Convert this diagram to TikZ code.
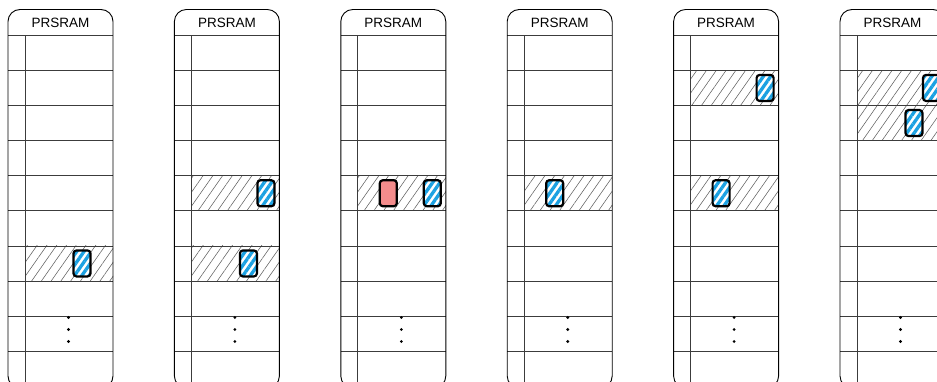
\documentclass[tikz,border=0pt]{standalone}
\usepackage{fontspec}
\setsansfont{Liberation Sans}
\usetikzlibrary{patterns.meta}
\definecolor{ramline}{RGB}{60,60,60}
\definecolor{cellblue}{RGB}{27,161,226}
\definecolor{cellred}{RGB}{244,140,140}
\definecolor{hatchgray}{RGB}{95,95,95}
\tikzset{
  ramframe/.style={draw=black, line width=0.9pt, rounded corners=12pt},
  rowline/.style={draw=ramline, line width=0.8pt},
  hotrow/.style={pattern={Lines[angle=55,distance=8pt,line width=0.55pt]}, pattern color=hatchgray},
  ramtitle/.style={font=\sffamily\fontsize{13.5}{15}\selectfont, inner sep=0pt},
  bluecell/.style={draw=black, line width=2.2pt, rounded corners=3pt, minimum width=17pt, minimum height=26pt, inner sep=0pt, preaction={fill=white}, pattern={Lines[angle=55,distance=6pt,line width=3.3pt]}, pattern color=cellblue},
  redcell/.style={draw=black, line width=2.2pt, rounded corners=3pt, minimum width=17pt, minimum height=26pt, inner sep=0pt, fill=cellred},
  dotmark/.style={circle, fill=black, inner sep=0pt, minimum size=3.1pt}
}

\begin{document}
\begin{tikzpicture}[x=1pt,y=-1pt]
  \useasboundingbox (0,0) rectangle (937,382);
  \clip (0,0) rectangle (937,382);

  % hatched (active) rows: column/row
  \foreach \c/\r in {0/7,1/5,1/7,2/5,3/5,4/2,4/5,5/2,5/3} {
    \pgfmathsetmacro{\cx}{8+166.4*\c}
    \pgfmathsetmacro{\ry}{35.3+35.1*(\r-1)}
    \path[hotrow] (\cx+17,\ry) rectangle (\cx+105,\ry+35.1);
  }

  % the six PRSRAM tables
  \foreach \c in {0,...,5} {
    \pgfmathsetmacro{\cx}{8+166.4*\c}
    \foreach \k in {0,...,9}
      \draw[rowline] (\cx,35.3+35.1*\k) -- (\cx+105,35.3+35.1*\k);
    \draw[rowline] (\cx+17,35.3) -- (\cx+17,388);
    \draw[ramframe] (\cx,9.5) rectangle (\cx+105,388);
    \node[ramtitle] (title\c) at (\cx+52.5,22.5) {PRSRAM};
    \node[dotmark] (dotA\c) at (\cx+60.5,317.5) {};
    \node[dotmark] (dotB\c) at (\cx+60.5,329.5) {};
    \node[dotmark] (dotC\c) at (\cx+60.5,341.5) {};
  }

  % requests in the rows: column/row/offset/kind
  \foreach \c/\r/\o/\kind [count=\n] in {0/7/74/bluecell,1/5/91.5/bluecell,1/7/74/bluecell,
      2/5/47.5/redcell,2/5/91.5/bluecell,3/5/47.5/bluecell,4/2/91.5/bluecell,
      4/5/47.5/bluecell,5/2/91.5/bluecell,5/3/74/bluecell} {
    \pgfmathsetmacro{\cx}{8+166.4*\c+\o}
    \pgfmathsetmacro{\ry}{35.3+35.1*(\r-0.5)}
    \node[\kind] (req\n) at (\cx,\ry) {};
  }
\end{tikzpicture}
\end{document}
